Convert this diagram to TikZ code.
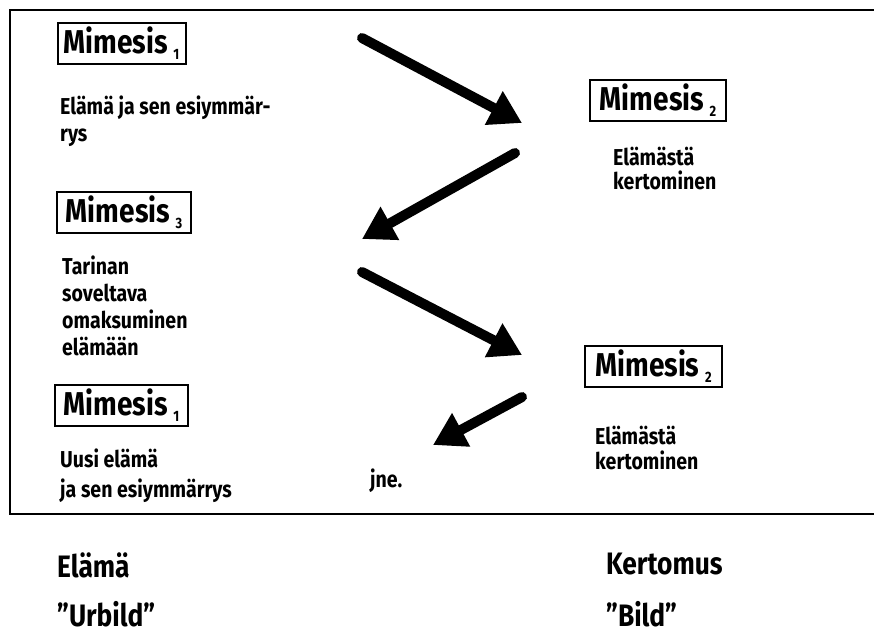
\documentclass[tikz,border=0pt]{standalone}
\usepackage{fontspec}
\setmainfont{Fira Sans}[FakeStretch=0.85]
\usetikzlibrary{arrows.meta}
\newcommand\msub[1]{\,\raisebox{-0.35ex}{\fontsize{15}{15}\selectfont #1}}
\begin{document}
\begin{tikzpicture}[x=1pt,y=-1pt,
  mbox/.style={draw, line width=2pt, inner sep=0pt, minimum width=#1, minimum height=41pt,
    font=\fontsize{33}{33}\selectfont\bfseries},
  body/.style={anchor=north west, inner sep=0pt, align=left,
    font=\fontsize{23}{27}\selectfont\bfseries},
  foot/.style={anchor=north west, inner sep=0pt,
    font=\fontsize{31}{31}\selectfont\bfseries},
  flow/.style={line width=10pt, line cap=round, -{Triangle[length=32pt, width=36pt]}}]
\useasboundingbox (0,0) rectangle (874,637);
% open frame around the cycle
\draw[line width=2.5pt] (874,10) -- (10,10) -- (10,514) -- (874,514);

% left column
\node[mbox=128pt] (m1) at (121.5,43) {Mimesis\msub{1}};
\node[body] (t1) at (60,96) {Elämä ja sen esiymmär-\\rys};
\node[mbox=134pt] (m3) at (124,212.5) {Mimesis\msub{3}};
\node[body] (t3) at (62,256) {Tarinan\\soveltava\\omaksuminen\\elämään};
\node[mbox=133pt] (m1b) at (121.5,405.5) {Mimesis\msub{1}};
\node[body, font=\fontsize{23}{30}\selectfont\bfseries] (t1b) at (60,449) {Uusi elämä\\ja sen esiymmärrys};

% right column
\node[mbox=136pt] (m2) at (658,100.5) {Mimesis\msub{2}};
\node[body, font=\fontsize{23}{24}\selectfont\bfseries] (t2) at (613,147) {Elämästä\\kertominen};
\node[mbox=137pt] (m2b) at (653.5,366.5) {Mimesis\msub{2}};
\node[body, font=\fontsize{23}{25}\selectfont\bfseries] (t2b) at (595,426) {Elämästä\\kertominen};

\node[body] (jne) at (370,469) {jne.};

% arrows of the cycle
\coordinate (a1s) at (362,38);  \coordinate (a1e) at (522,123);
\coordinate (a2s) at (515,153); \coordinate (a2e) at (362,239);
\coordinate (a3s) at (362,272); \coordinate (a3e) at (522,355);
\coordinate (a4s) at (522,397); \coordinate (a4e) at (433,445);
\draw[flow] (a1s) -- (a1e);
\draw[flow] (a2s) -- (a2e);
\draw[flow] (a3s) -- (a3e);
\draw[flow] (a4s) -- (a4e);

% captions below the frame
\node[foot] (l1) at (57,553) {Elämä};
\node[foot] (r1) at (606,553) {Kertomus};
\node[foot] (l2) at (57,601) {”Urbild”};
\node[foot] (r2) at (606,601) {”Bild”};
\end{tikzpicture}
\end{document}
